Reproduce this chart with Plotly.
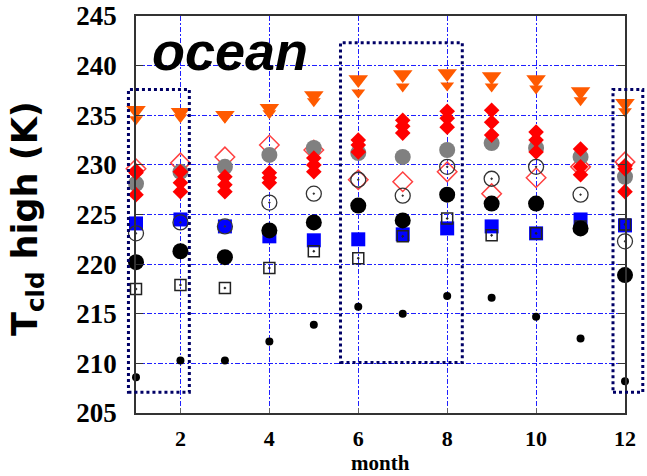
import plotly.graph_objects as go

months = list(range(1, 13))
tri_big = [235.5, 235.3, 235.0, 235.7, 237.0, 238.6, 239.1, 239.2, 238.9, 238.6, 237.4, 236.2]
tri_small = [234.6, 234.8, 234.8, 235.2, 236.4, 237.3, 237.9, 238.0, 237.9, 237.7, 236.5, 235.4]
red_open = [229.6, 230.2, 230.8, 232.0, 231.5, 228.5, 228.3, 229.3, 227.1, 228.7, 229.8, 230.3]
gray = [228.1, 229.3, 229.8, 231.0, 231.7, 231.2, 230.8, 231.5, 232.2, 231.7, 230.8, 228.8]
red_d1 = [229.4, 229.3, 228.8, 229.2, 230.7, 232.5, 234.5, 235.4, 235.5, 233.3, 231.6, 229.9]
red_d2 = [229.2, 228.2, 228.0, 228.7, 230.0, 232.0, 233.9, 234.7, 234.3, 232.5, 229.8, 229.6]
red_d3 = [227.0, 227.3, 227.3, 228.2, 229.3, 231.3, 233.2, 233.8, 233.0, 231.3, 229.0, 227.3]
open_circ = [223.1, 224.2, 223.8, 226.2, 227.1, 228.5, 226.9, 229.8, 228.6, 229.8, 227.0, 222.3]
blue_sq = [224.1, 224.5, 223.8, 222.8, 222.4, 222.5, 223.0, 223.6, 223.8, 223.1, 224.5, 223.9]
open_sq = [217.5, 217.9, 217.6, 219.6, 221.3, 220.6, 222.8, 224.6, 222.9, 223.1, 223.8, 224.0]
black = [220.2, 221.3, 220.7, 223.4, 224.2, 225.9, 224.4, 227.0, 226.1, 226.1, 223.6, 218.9]
dots = [208.6, 210.3, 210.3, 212.2, 213.9, 215.7, 215.0, 216.8, 216.6, 214.7, 212.5, 208.2]

x_ticks = [2, 4, 6, 8, 10, 12]
y_ticks = [205, 210, 215, 220, 225, 230, 235, 240, 245]
XR = [1, 12]
YR = [205, 245]

# dotted highlight boxes (month range, value range)
boxes = [((0.83, 2.2), (207.1, 237.6)), ((5.6, 8.34), (210.1, 242.3)), ((11.73, 12.4), (207.1, 237.6))]

fig = go.Figure()

def add(y, symbol, size, color, line_color=None, line_width=0):
    fig.add_trace(go.Scatter(
        x=months, y=y, mode="markers", cliponaxis=False, showlegend=False,
        marker=dict(symbol=symbol, size=size, color=color,
                    line=dict(color=line_color or color, width=line_width))))

add(tri_big, "triangle-down", 17, "#FF5A00")
add(tri_small, "triangle-down", 12, "#FF5A00")
add(red_open, "diamond-open", 15, "#FF4040", "#FF4040", 1.5)
add(gray, "circle", 16, "#808080")
add(red_d1, "diamond", 12, "#FF0000")
add(red_d2, "diamond", 12, "#FF0000")
add(red_d3, "diamond", 12, "#FF0000")
add(blue_sq, "square", 14, "#0000FF")
add(open_circ, "circle-open-dot", 15, "#333333", "#333333", 1.3)
add(open_sq, "square-open-dot", 11, "#222222", "#222222", 1.5)
add(black, "circle", 16, "#000000")
add(dots, "circle", 8, "#000000")

def px(v):
    return (v - XR[0]) / (XR[1] - XR[0])

def py(v):
    return (v - YR[0]) / (YR[1] - YR[0])

for (bx, by) in boxes:
    fig.add_shape(type="rect", xref="paper", yref="paper",
                  x0=px(bx[0]), x1=px(bx[1]), y0=py(by[0]), y1=py(by[1]),
                  line=dict(color="#000066", width=3, dash="dot"), layer="above")

grid = dict(showgrid=True, gridcolor="#1F1FFF", gridwidth=1, griddash="5px,2px,2px,2px")
serif = "Liberation Serif"

fig.update_layout(
    width=647, height=476,
    margin=dict(l=135.5, r=22, t=16, b=63),
    plot_bgcolor="white", paper_bgcolor="white",
    showlegend=False,
    xaxis=dict(range=XR, tickvals=x_ticks, ticks="inside", ticklen=5, tickcolor="#666666",
               showline=True, linecolor="#333333", linewidth=1.5, mirror=True,
               tickfont=dict(family=serif, size=22, color="black", weight="bold"),
               ticklabelstandoff=5, zeroline=False, automargin=False, **grid),
    yaxis=dict(range=YR, tickvals=y_ticks, ticks="inside", ticklen=7, tickcolor="#333333",
               showline=True, linecolor="#333333", linewidth=1.5, mirror="ticks",
               tickfont=dict(family=serif, size=27, color="black", weight="bold"),
               ticklabelstandoff=12, zeroline=False, automargin=False, **grid),
)

fig.add_annotation(text="month", xref="paper", yref="paper",
                   x=0.5, y=-0.127, showarrow=False, xanchor="center", yanchor="middle",
                   font=dict(family=serif, size=21, color="black", weight="bold"))
fig.add_annotation(text="T<sub>cld</sub> high (K)", xref="paper", yref="paper",
                   x=-0.222, y=0.49, textangle=-90, showarrow=False,
                   font=dict(family="DejaVu Sans", size=35, color="black", weight="bold"),
                   xanchor="center", yanchor="middle")
fig.add_annotation(text="<i>ocean</i>", xref="paper", yref="paper",
                   x=0.028, y=0.992, showarrow=False, xanchor="left", yanchor="top",
                   font=dict(family="Liberation Sans", size=54, color="black", weight="bold"))

fig.write_html("out.html")
